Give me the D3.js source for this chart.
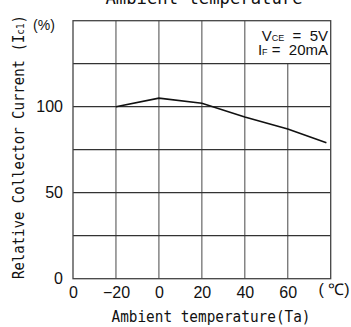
<!DOCTYPE html>
<html>
<head>
<meta charset="utf-8">
<script src="https://cdn.jsdelivr.net/npm/d3@7"></script>
<style>
  body { margin: 0; background: #fff; }
  text { fill: #111; white-space: pre; }
</style>
</head>
<body>
<div id="chart"></div>
<script>
// curve: ambient temperature (degC) vs relative collector current (%)
const temps = [-20, 0, 20, 40, 60, 78];
const current = [100, 105, 102, 94, 87, 79];

const xTicks = [-40, -20, 0, 20, 40, 60];
const xTickLabels = ["0", "\u221220", "0", "20", "40", "60"];
const yTicks = [0, 50, 100];
const xGrid = [-20, 0, 20, 40, 60];
const yGrid = [25, 50, 75, 100, 125];

const width = 351, height = 327;
const margin = {top: 20.7, right: 20.3, bottom: 48.3, left: 73};

const svg = d3.select("#chart").append("svg")
    .attr("width", width)
    .attr("height", height);

const x = d3.scaleLinear().domain([-40, 80]).range([margin.left, width - margin.right]);
const y = d3.scaleLinear().domain([0, 150]).range([height - margin.bottom, margin.top]);

const numFont = "'Liberation Sans Narrow', 'Liberation Sans', Arial, sans-serif";
const monoFont = "'DejaVu Sans Mono', 'Liberation Mono', monospace";

// grid
const grid = svg.append("g").attr("stroke", "#666").attr("stroke-width", 1.2);
grid.selectAll(".vg")
  .data(xGrid)
  .enter().append("line")
    .attr("x1", d => x(d)).attr("x2", d => x(d))
    .attr("y1", d => d === 60 ? y(125) : y(150))
    .attr("y2", y(0));
grid.selectAll(".hg")
  .data(yGrid)
  .enter().append("line")
    .attr("x1", x(-40)).attr("x2", x(80))
    .attr("y1", d => y(d)).attr("y2", d => y(d))
    .attr("stroke", "#333");

// frame
svg.append("rect")
    .attr("x", x(-40)).attr("y", y(150))
    .attr("width", x(80) - x(-40))
    .attr("height", y(0) - y(150))
    .attr("fill", "none")
    .attr("stroke", "#444")
    .attr("stroke-width", 1.3);

// curve
const line = d3.line()
    .x(d => x(d[0]))
    .y(d => y(d[1]));
svg.append("path")
    .datum(temps.map((t, i) => [t, current[i]]))
    .attr("d", line)
    .attr("fill", "none")
    .attr("stroke", "#111")
    .attr("stroke-width", 1.6);

// axes labels (tick text only)
const xAxis = d3.axisBottom(x)
    .tickValues(xTicks)
    .tickFormat((d, i) => xTickLabels[i])
    .tickSize(0)
    .tickPadding(8);
const gx = svg.append("g")
    .attr("transform", "translate(0," + y(0) + ")")
    .call(xAxis);
gx.select(".domain").remove();
gx.selectAll("text")
    .attr("font-family", numFont)
    .attr("font-size", 16)
    .attr("fill", "#111");

const yAxis = d3.axisLeft(y)
    .tickValues(yTicks)
    .tickSize(0)
    .tickPadding(10);
const gy = svg.append("g")
    .attr("transform", "translate(" + x(-40) + ",0)")
    .call(yAxis);
gy.select(".domain").remove();
gy.selectAll("text")
    .attr("font-family", numFont)
    .attr("font-size", 16)
    .attr("fill", "#111");

// unit labels
svg.append("text")
    .attr("x", 44).attr("y", 25)
    .attr("dy", "0.35em")
    .attr("text-anchor", "middle")
    .attr("font-family", numFont)
    .attr("font-size", 14)
    .text("(%)");

svg.append("text")
    .attr("x", 334).attr("y", 289)
    .attr("dy", "0.35em")
    .attr("text-anchor", "middle")
    .attr("font-family", numFont)
    .attr("font-size", 16)
    .text("( \u2103)");

// conditions
const cond = svg.append("g")
    .attr("font-family", numFont)
    .attr("font-size", 15)
    .attr("text-anchor", "end");
const c1 = cond.append("text").attr("x", 328).attr("y", 41);
c1.append("tspan").text("V");
c1.append("tspan").attr("font-size", 9).text("CE");
c1.append("tspan").text("  =  5V");
const c2 = cond.append("text").attr("x", 328).attr("y", 55);
c2.append("tspan").text("I");
c2.append("tspan").attr("font-size", 9).text("F");
c2.append("tspan").text(" =  20mA");

// axis titles
svg.append("text")
    .attr("x", 211).attr("y", 317)
    .attr("dy", "0.35em")
    .attr("text-anchor", "middle")
    .attr("font-family", monoFont)
    .attr("font-size", 15)
    .attr("textLength", 199)
    .attr("lengthAdjust", "spacingAndGlyphs")
    .text("Ambient temperature(Ta)");

const yt = svg.append("text")
    .attr("transform", "translate(19,147) rotate(-90)")
    .attr("dy", "0.35em")
    .attr("text-anchor", "middle")
    .attr("font-family", monoFont)
    .attr("font-size", 15)
    .attr("textLength", 264)
    .attr("lengthAdjust", "spacingAndGlyphs");
yt.append("tspan").text("Relative Collector Current (I");
yt.append("tspan").attr("font-size", 10).text("c1");
yt.append("tspan").text(")");

svg.append("text")
    .attr("x", 204).attr("y", 4)
    .attr("text-anchor", "middle")
    .attr("font-family", monoFont)
    .attr("font-size", 17)
    .attr("textLength", 197)
    .attr("lengthAdjust", "spacingAndGlyphs")
    .text("Ambient temperature");
</script>
</body>
</html>
